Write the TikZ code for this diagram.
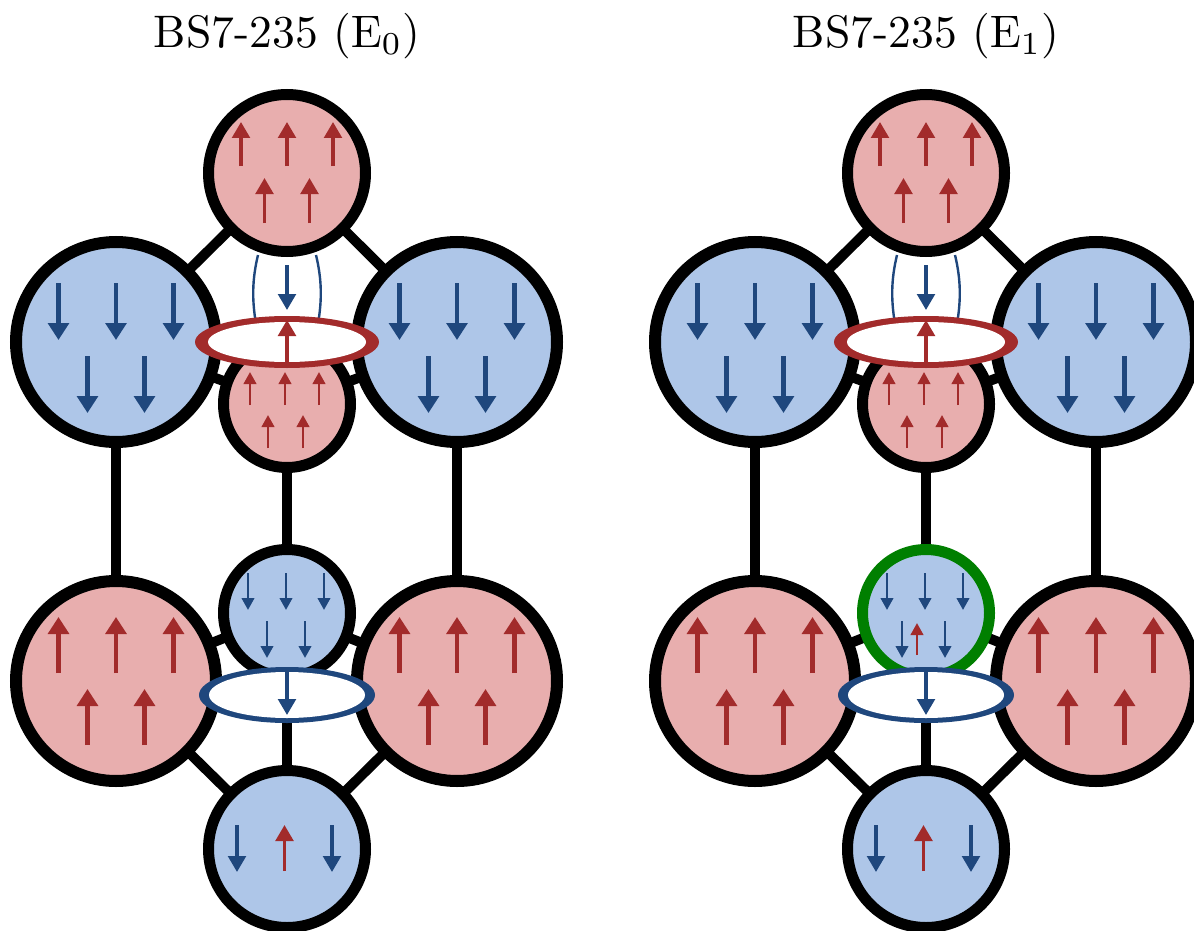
\documentclass[tikz,border=0pt]{standalone}
\usetikzlibrary{arrows.meta,backgrounds}

\definecolor{spinred}{HTML}{A22B2B}
\definecolor{spinblue}{HTML}{1F477D}
\definecolor{upfill}{HTML}{E8AEAE}
\definecolor{downfill}{HTML}{AEC6E8}
\definecolor{ringgreen}{HTML}{007F00}

\tikzset{
  site/.style={circle, draw=black, inner sep=0pt, outer sep=0pt},
  bigsite/.style={site, line width=6pt, minimum size=100pt},
  midsite/.style={site, line width=5.5pt, minimum size=78.5pt},
  smallsite/.style={site, line width=5.5pt, minimum size=63.5pt},
  upsite/.style={fill=upfill},
  downsite/.style={fill=downfill},
  bond/.style={line width=5pt, black},
  spinL/.style={line width=2.25pt, -{Triangle[width=10.3pt,length=8.5pt]}},
  spinM/.style={line width=1.75pt, -{Triangle[width=8.8pt,length=8pt]}},
  spinS/.style={line width=1.35pt, -{Triangle[width=6.2pt,length=6pt]}},
  upspin/.style={spinred},
  downspin/.style={spinblue},
  lens/.style={spinblue, line width=1.2pt},
  headline/.style={anchor=base, inner sep=0pt, scale=2.28},
}

% #1 name prefix, #2 subscript of the title, #3 ring colour of the lower
% small site, #4 second row of spins in the lower small site
\newcommand{\bsladder}[4]{%
\begin{scope}[name prefix=#1-]
  \node[headline] (title) at (287,48) {BS7-235 ($\mathrm{E}_{#2}$)};

  % thin loop between the top site and the upper ring
  \draw[lens] (258,255) .. controls (252,280) and (252,300) .. (256,324);
  \draw[lens] (316,255) .. controls (322,280) and (322,300) .. (318,324);

  % sites
  \node[bigsite, downsite] (bigL) at (116,342) {};
  \node[bigsite, downsite] (bigR) at (457,342) {};
  \node[bigsite, upsite]   (botL) at (116,681) {};
  \node[bigsite, upsite]   (botR) at (457,681) {};
  \node[midsite, upsite]   (top)  at (287,173) {};
  \node[midsite, downsite] (bot)  at (287,849) {};
  \node[smallsite, upsite] (mid)  at (287,404) {};
  \node[smallsite, downsite, draw=#3] (low) at (287,613) {};

  % bonds, behind the sites
  \begin{pgfonlayer}{background}
    \draw[bond] (top.center) -- (bigL.center);
    \draw[bond] (top.center) -- (bigR.center);
    \draw[bond] (mid.center) -- (bigL.center);
    \draw[bond] (mid.center) -- (bigR.center);
    \draw[bond] (bigL.center) -- (botL.center);
    \draw[bond] (bigR.center) -- (botR.center);
    \draw[bond] (mid.center) -- (low.center);
    \draw[bond] (low.center) -- (bot.center);
    \draw[bond] (low.center) -- (botL.center);
    \draw[bond] (low.center) -- (botR.center);
    \draw[bond] (bot.center) -- (botL.center);
    \draw[bond] (bot.center) -- (botR.center);
  \end{pgfonlayer}

  % rings
  \fill[spinred] (287,342) ellipse [x radius=46pt, y radius=13pt];
  \fill[white]   (287,342) ellipse [x radius=39.5pt, y radius=10pt];
  \fill[spinblue] (287,695) ellipse [x radius=44pt, y radius=14pt];
  \fill[white]    (287,695) ellipse [x radius=39pt, y radius=11.5pt];

  % spins of the large sites
  \foreach \x in {58.5,116,173.5} \draw[spinL, downspin] (\x,283) -- (\x,340);
  \foreach \x in {87.5,144.5}     \draw[spinL, downspin] (\x,356) -- (\x,413);
  \foreach \x in {399.5,457,514.5} \draw[spinL, downspin] (\x,283) -- (\x,340);
  \foreach \x in {428.5,485.5}     \draw[spinL, downspin] (\x,356) -- (\x,413);
  \foreach \x in {58.5,116,173.5} \draw[spinL, upspin] (\x,673) -- (\x,617);
  \foreach \x in {87.5,144.5}     \draw[spinL, upspin] (\x,745) -- (\x,689);
  \foreach \x in {399.5,457,514.5} \draw[spinL, upspin] (\x,673) -- (\x,617);
  \foreach \x in {428.5,485.5}     \draw[spinL, upspin] (\x,745) -- (\x,689);

  % spins of the top and bottom sites
  \foreach \x in {241,287,333} \draw[spinM, upspin] (\x,166) -- (\x,122);
  \foreach \x in {264.5,309.5} \draw[spinM, upspin] (\x,223) -- (\x,178);
  \foreach \x in {237,332} \draw[spinM, downspin] (\x,825) -- (\x,872);
  \draw[spinM, upspin] (284.5,871) -- (284.5,825);

  % spins of the small sites
  \foreach \x in {250,285,319} \draw[spinS, upspin] (\x,405) -- (\x,372);
  \foreach \x in {268,303}     \draw[spinS, upspin] (\x,448) -- (\x,415);
  \foreach \x in {248,286,324} \draw[spinS, downspin] (\x,573) -- (\x,610);
  #4

  % spins of the loop and the rings
  \draw[spinM, downspin] (287,265) -- (287,310);
  \draw[spinM, upspin]   (287,365) -- (287,320);
  \draw[spinM, downspin] (287,670) -- (287,715);
\end{scope}}

\begin{document}
\begin{tikzpicture}[x=0.5pt, y=-0.5pt]
  \useasboundingbox (0,0) rectangle (1194,931);
  \clip (0,0) rectangle (1194,931);

  \bsladder{L}{0}{black}{%
    \foreach \x in {267,305} \draw[spinS, downspin] (\x,621) -- (\x,658);}

  \begin{scope}[xshift=319.5pt]
    \bsladder{R}{1}{ringgreen}{%
      \foreach \x in {263,306} \draw[spinS, downspin] (\x,621) -- (\x,658);
      \draw[spinS, upspin] (278,655) -- (278,623);}
  \end{scope}
\end{tikzpicture}
\end{document}
